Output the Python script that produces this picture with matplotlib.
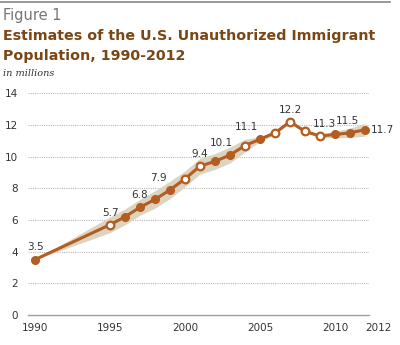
import numpy as np
import matplotlib
matplotlib.use("Agg")
from matplotlib import pyplot as plt
from matplotlib.lines import Line2D

# data (millions)
years = [1990, 1995, 1996, 1997, 1998, 1999, 2000, 2001, 2002, 2003,
         2004, 2005, 2006, 2007, 2008, 2009, 2010, 2011, 2012]
values = [3.5, 5.7, 6.2, 6.8, 7.3, 7.9, 8.6, 9.4, 9.7, 10.1,
          10.7, 11.1, 11.5, 12.2, 11.6, 11.3, 11.4, 11.5, 11.7]
# open circle vs filled circle per year
is_open = [False, True, False, False, False, False, True, True, False, False,
           True, False, True, True, True, True, False, False, False]
band_low = [3.5, 5.2, 5.7, 6.3, 6.75, 7.35, 8.1, 8.9, 9.2, 9.6,
            10.3, 10.95, 11.4, 12.1, 11.5, 11.2, 11.2, 11.2, 11.3]
band_high = [3.5, 6.2, 6.7, 7.3, 7.85, 8.45, 9.1, 9.9, 10.2, 10.6,
             11.1, 11.25, 11.6, 12.3, 11.7, 11.4, 11.6, 11.8, 12.1]
label_years = [1990, 1995, 1997, 1999, 2001, 2003, 2005, 2007, 2009, 2011]
yticks = [0, 2, 4, 6, 8, 10, 12, 14]
xticks = [1990, 1995, 2000, 2005, 2010, 2012]

line_col = '#b35d22'
band_col = '#dcd4c1'
title_col = '#7a4614'
text_col = '#333333'

fig = plt.figure(figsize=(4.0, 3.45), dpi=100)
ax = fig.add_axes([0.07, 0.087, 0.8525, 0.6426])

ax.fill_between(years, band_low, band_high, color=band_col, lw=0, zorder=1)
ax.plot(years, values, color=line_col, lw=2.2, zorder=2)

yr = np.array(years)
val = np.array(values)
op = np.array(is_open)
ax.plot(yr[~op], val[~op], 'o', ms=5.5, color=line_col, zorder=3)
ax.plot(yr[op], val[op], 'o', ms=5.5, mfc='white', mec=line_col, mew=1.6, zorder=3)

# data labels
shift = {1999: -0.8, 2003: -0.6, 2005: -0.9, 2009: 0.3, 2011: -0.2}
for y in label_years:
    v = values[years.index(y)]
    ax.text(y + shift.get(y, 0), v + 0.45, '%.1f' % v, ha='center', va='bottom',
            fontsize=7.5, color=text_col, zorder=4)
ax.text(years[-1] + 0.4, values[-1], '%.1f' % values[-1], ha='left', va='center',
        fontsize=7.5, color=text_col)

ax.set_xlim(1989.53, 2012.27)
ax.set_ylim(0, 14)
ax.set_yticks(yticks)
ax.set_xticks(xticks)
ax.set_xticklabels([str(x) for x in xticks])
ax.tick_params(length=0, labelsize=7.5, labelcolor=text_col)
ax.tick_params(axis='y', pad=7)
ax.tick_params(axis='x', pad=6)
ax.xaxis.get_ticklabels()[-1].set_horizontalalignment('left')
for y in yticks[1:]:
    ax.axhline(y, color='#b8b8b8', lw=0.8, ls=(0, (1, 1)), zorder=0)
for s in ['top', 'right', 'left']:
    ax.spines[s].set_visible(False)
ax.spines['bottom'].set_color('#a0a0a0')
ax.spines['bottom'].set_linewidth(1.0)

# header
fig.add_artist(Line2D([0.0, 0.975], [0.993, 0.993], color='#888888', lw=1.2))
fig.text(0.008, 0.955, 'Figure 1', fontsize=10.5, color='#777777', va='center')
fig.text(0.008, 0.895, 'Estimates of the U.S. Unauthorized Immigrant',
         fontsize=10.3, fontweight='bold', color=title_col, va='center')
fig.text(0.008, 0.838, 'Population, 1990-2012',
         fontsize=10.3, fontweight='bold', color=title_col, va='center')
fig.text(0.008, 0.787, 'in millions', fontsize=7, style='italic',
         family='DejaVu Serif', color='#333333', va='center')

fig.savefig('out.png', dpi=100)
